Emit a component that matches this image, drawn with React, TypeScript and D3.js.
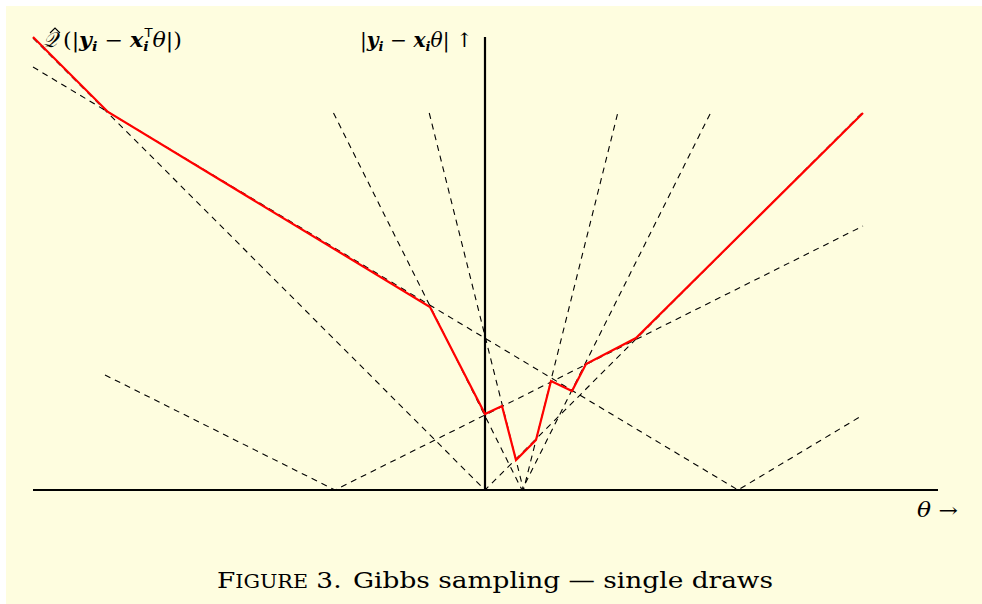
import React from "react";
import * as d3 from "d3";

// Dashed V-shaped residual lines |y_i - x_i θ|
const vertexTheta = [5.06, -3.0, 0.74, 0.77, 0.0];
const slopes = [0.6, 0.5, 2.0, 4.0, 1.0];
const armLeft = [-9.04, -7.6, -3.03, -1.115, -9.04];
const armRight = [7.5, 7.56, 4.51, 2.655, 7.56];

// Red path (single Gibbs draws)
const redTheta = [-9.04, -7.54, -1.1, 0, 0.34, 0.62, 1.02, 1.32, 1.74, 2.02, 3.02, 7.56];
const redValue = [9.06, 7.56, 3.66, 1.52, 1.68, 0.6, 1.0, 2.18, 1.98, 2.52, 3.04, 7.54];

const W = 982;
const H = 604;

export default function App() {
  const x = d3.scaleLinear().domain([-9.04, 9.06]).range([33, 938]);
  const y = d3.scaleLinear().domain([0, 9.06]).range([490, 37]);
  const line = d3
    .line<[number, number]>()
    .x((d) => x(d[0]))
    .y((d) => y(d[1]));

  const vs = vertexTheta.map((v, i) => {
    const pts: [number, number][] = [
      [armLeft[i], slopes[i] * Math.abs(armLeft[i] - v)],
      [v, 0],
      [armRight[i], slopes[i] * Math.abs(armRight[i] - v)],
    ];
    return line(pts) as string;
  });
  const redPts: [number, number][] = redTheta.map((t, i) => [t, redValue[i]]);

  const serif = "'DejaVu Serif', 'Liberation Serif', serif";
  return (
    <svg
      width={W}
      height={H}
      style={{ position: "absolute", left: 0, top: 0, display: "block" }}
    >
      <rect x={0} y={0} width={W} height={H} fill="#ffffff" />
      <rect x={6} y={6} width={W - 6} height={H - 6} fill="#fefddf" />
      {vs.map((d, i) => (
        <path key={i} d={d} fill="none" stroke="#000" strokeWidth={1.1} strokeDasharray="6,5" />
      ))}
      <line x1={x(-9.04)} x2={x(9.06)} y1={y(0)} y2={y(0)} stroke="#000" strokeWidth={2.2} />
      <line x1={x(0)} x2={x(0)} y1={y(0)} y2={y(9.06)} stroke="#000" strokeWidth={2.2} />
      <path d={line(redPts) as string} fill="none" stroke="#ff0000" strokeWidth={2.2} strokeLinejoin="miter" />

      {/* top-left label */}
      <path d="M50,33 L55,28 L60,33" fill="none" stroke="#000" strokeWidth={1.1} />
      <text x={42} y={47} fontFamily={serif} fontSize={21} fill="#000">
        <tspan fontStyle="italic">𝒬</tspan>
      </text>
      <text x={63} y={47} fontFamily={serif} fontSize={20} fill="#000" textLength={119} lengthAdjust="spacingAndGlyphs">
        <tspan>(|</tspan>
        <tspan fontStyle="italic" fontWeight="bold">y</tspan>
        <tspan fontStyle="italic" fontWeight="bold" fontSize={13} dy={4}>i</tspan>
        <tspan dy={-4}> − </tspan>
        <tspan fontStyle="italic" fontWeight="bold">x</tspan>
        <tspan fontStyle="italic" fontWeight="bold" fontSize={13} dy={4}>i</tspan>
        <tspan fontFamily="'DejaVu Sans', sans-serif" fontSize={12} dx={-4} dy={-14}>T</tspan>
        <tspan fontStyle="italic" dy={10}>θ</tspan>
        <tspan>|)</tspan>
      </text>

      {/* top-right label near vertical axis */}
      <text x={360} y={47} fontFamily={serif} fontSize={20} fill="#000" textLength={113} lengthAdjust="spacingAndGlyphs">
        <tspan>|</tspan>
        <tspan fontStyle="italic" fontWeight="bold">y</tspan>
        <tspan fontStyle="italic" fontWeight="bold" fontSize={13} dy={4}>i</tspan>
        <tspan dy={-4}> − </tspan>
        <tspan fontStyle="italic" fontWeight="bold">x</tspan>
        <tspan fontStyle="italic" fontWeight="bold" fontSize={13} dy={4}>i</tspan>
        <tspan fontStyle="italic" dy={-4}>θ</tspan>
        <tspan>| ↑</tspan>
      </text>

      {/* theta axis label */}
      <text x={917} y={517} fontFamily={serif} fontSize={20} fill="#000" textLength={41} lengthAdjust="spacingAndGlyphs">
        <tspan fontStyle="italic">θ</tspan>
        <tspan> →</tspan>
      </text>

      {/* caption */}
      <text x={217} y={588} fontFamily={serif} fontSize={23} fill="#000" textLength={556} lengthAdjust="spacingAndGlyphs">
        <tspan>F</tspan>
        <tspan fontSize={18}>IGURE</tspan>
        <tspan> 3.</tspan>
        <tspan dx={10}>Gibbs sampling — single draws</tspan>
      </text>
    </svg>
  );
}
